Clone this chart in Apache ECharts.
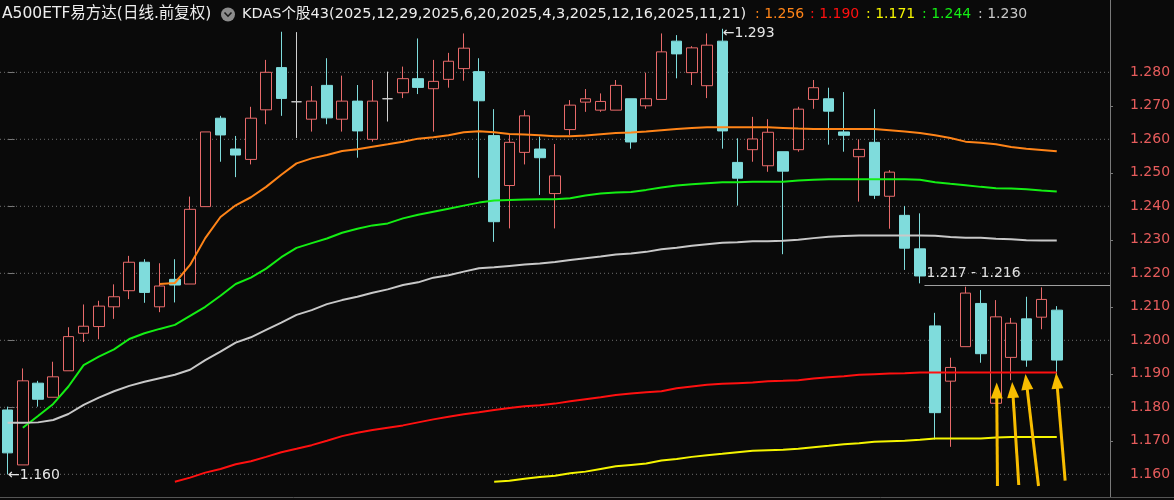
<!DOCTYPE html>
<html><head><meta charset="utf-8">
<script src="https://cdn.jsdelivr.net/npm/echarts@6/dist/echarts.min.js"></script>
<style>html,body{margin:0;padding:0;background:#0a0a0a;}#c{width:1174px;height:500px;}</style>
</head><body><div id="c"></div>
<script>
// ---------- text ----------
const stockName = 'A500ETF易方达(日线.前复权)';
const indicatorName = 'KDAS个股43(2025,12,29,2025,6,20,2025,4,3,2025,12,16,2025,11,21)';

// ---------- candles (70 daily bars) ----------
const opens = [1.1792,1.1628,1.1872,1.1830,1.1909,1.2021,1.2041,1.2100,1.2148,1.2233,
1.2100,1.2182,1.2168,1.2399,1.2663,1.2571,1.2540,1.2688,1.2814,1.2712,
1.2660,1.2761,1.2660,1.2714,1.2600,1.2721,1.2739,1.2781,1.2751,1.2779,
1.2811,1.2802,1.2611,1.2462,1.2561,1.2571,1.2438,1.2629,1.2711,1.2687,
1.2687,1.2721,1.2700,1.2719,1.2893,1.2799,1.2760,1.2893,1.2531,1.2569,
1.2521,1.2563,1.2569,1.2719,1.2721,1.2622,1.2548,1.2591,1.2430,1.2373,
1.2273,1.2043,1.1878,1.1981,1.2110,1.1812,1.1949,1.2064,1.2069,1.2090];
const closes = [1.1664,1.1879,1.1824,1.1891,1.2011,1.2042,1.2102,1.2130,1.2233,1.2143,
1.2162,1.2165,1.2391,1.2622,1.2613,1.2553,1.2663,1.2800,1.2722,1.2712,
1.2714,1.2664,1.2714,1.2625,1.2714,1.2721,1.2781,1.2755,1.2773,1.2833,
1.2872,1.2715,1.2354,1.2591,1.2670,1.2545,1.2491,1.2702,1.2721,1.2713,
1.2761,1.2592,1.2721,1.2861,1.2855,1.2873,1.2881,1.2625,1.2484,1.2601,
1.2621,1.2505,1.2690,1.2754,1.2684,1.2612,1.2570,1.2433,1.2502,1.2275,
1.2192,1.1784,1.1919,1.2141,1.1960,1.2070,1.2051,1.1941,1.2122,1.1941];
const lows = [1.1600,1.1628,1.1802,1.1830,1.1909,1.1995,1.2003,1.2064,1.2123,1.2112,
1.2084,1.2113,1.2168,1.2399,1.2533,1.2487,1.2525,1.2645,1.2670,1.2604,
1.2623,1.2645,1.2623,1.2545,1.2593,1.2653,1.2723,1.2735,1.2623,1.2754,
1.2775,1.2485,1.2294,1.2334,1.2525,1.2434,1.2334,1.2613,1.2682,1.2682,
1.2687,1.2572,1.2691,1.2719,1.2782,1.2762,1.2723,1.2572,1.2402,1.2533,
1.2503,1.2257,1.2563,1.2691,1.2584,1.2563,1.2414,1.2422,1.2333,1.2210,
1.2170,1.1704,1.1682,1.1981,1.1933,1.1812,1.1881,1.1921,1.2033,1.1893];
const highs = [1.1802,1.1916,1.1879,1.1936,1.2039,1.2107,1.2118,1.2167,1.2252,1.2242,
1.2230,1.2242,1.2429,1.2622,1.2670,1.2610,1.2697,1.2837,1.2921,1.2920,
1.2759,1.2842,1.2790,1.2762,1.2777,1.2802,1.2817,1.2901,1.2837,1.2858,
1.2916,1.2842,1.2690,1.2613,1.2687,1.2608,1.2586,1.2717,1.2750,1.2737,
1.2777,1.2721,1.2799,1.2916,1.2911,1.2878,1.2916,1.2930,1.2603,1.2667,
1.2660,1.2563,1.2697,1.2777,1.2754,1.2741,1.2600,1.2690,1.2508,1.2401,
1.2379,1.2082,1.1948,1.2160,1.2150,1.2120,1.2067,1.2130,1.2158,1.2102];

// ---------- KDAS anchored lines (null before anchor) ----------
const N = null;
const kdasOrange = [N,N,N,N,N,N,N,N,N,N,
1.2168,1.2171,1.2225,1.2305,1.2368,1.2403,1.2427,1.2458,1.2494,1.2528,
1.2543,1.2553,1.2565,1.2570,1.2578,1.2585,1.2593,1.2602,1.2606,1.2612,
1.2621,1.2624,1.2621,1.2616,1.2614,1.2612,1.2609,1.2609,1.2611,1.2615,
1.2619,1.2620,1.2623,1.2627,1.2631,1.2634,1.2636,1.2636,1.2636,1.2636,
1.2636,1.2634,1.2632,1.2631,1.2631,1.2631,1.2631,1.2631,1.2627,1.2623,
1.2619,1.2612,1.2604,1.2593,1.2590,1.2585,1.2577,1.2572,1.2568,1.2564];
const kdasRed = [N,N,N,N,N,N,N,N,N,N,
N,1.1578,1.1590,1.1605,1.1616,1.1630,1.1639,1.1652,1.1666,1.1676,
1.1687,1.1700,1.1714,1.1724,1.1732,1.1739,1.1746,1.1755,1.1764,1.1772,
1.1779,1.1785,1.1792,1.1798,1.1803,1.1806,1.1811,1.1818,1.1824,1.1830,
1.1837,1.1841,1.1845,1.1848,1.1857,1.1862,1.1867,1.1870,1.1872,1.1874,
1.1878,1.1879,1.1881,1.1886,1.1890,1.1893,1.1897,1.1899,1.1901,1.1902,
1.1904,1.1904,1.1904,1.1904,1.1904,1.1904,1.1904,1.1904,1.1904,1.1904];
const kdasYellow = [N,N,N,N,N,N,N,N,N,N,
N,N,N,N,N,N,N,N,N,N,
N,N,N,N,N,N,N,N,N,N,
N,N,1.1578,1.1581,1.1587,1.1592,1.1596,1.1603,1.1608,1.1616,
1.1624,1.1628,1.1632,1.1641,1.1646,1.1652,1.1657,1.1661,1.1666,1.1670,
1.1672,1.1673,1.1676,1.1681,1.1685,1.1690,1.1693,1.1697,1.1699,1.1700,
1.1703,1.1707,1.1707,1.1707,1.1707,1.1710,1.1711,1.1711,1.1711,1.1711];
const kdasGreen = [N,1.1739,1.1774,1.1810,1.1862,1.1926,1.1951,1.1973,1.2004,1.2021,
1.2034,1.2046,1.2073,1.2100,1.2133,1.2168,1.2187,1.2214,1.2248,1.2276,
1.2290,1.2304,1.2321,1.2333,1.2343,1.2349,1.2364,1.2375,1.2384,1.2393,
1.2402,1.2411,1.2417,1.2419,1.2420,1.2421,1.2421,1.2424,1.2432,1.2438,
1.2441,1.2443,1.2449,1.2456,1.2462,1.2466,1.2469,1.2472,1.2472,1.2473,
1.2473,1.2473,1.2477,1.2479,1.2481,1.2481,1.2481,1.2481,1.2481,1.2481,
1.2479,1.2472,1.2467,1.2463,1.2458,1.2454,1.2453,1.2451,1.2447,1.2444];
const kdasWhite = [1.1754,1.1754,1.1755,1.1762,1.1780,1.1807,1.1829,1.1848,1.1864,1.1876,
1.1887,1.1897,1.1912,1.1941,1.1966,1.1993,1.2009,1.2031,1.2053,1.2076,
1.2090,1.2108,1.2120,1.2130,1.2142,1.2152,1.2165,1.2173,1.2187,1.2194,
1.2205,1.2215,1.2218,1.2222,1.2226,1.2229,1.2234,1.2240,1.2245,1.2250,
1.2256,1.2259,1.2264,1.2272,1.2276,1.2282,1.2287,1.2291,1.2293,1.2296,
1.2296,1.2297,1.2300,1.2305,1.2309,1.2311,1.2313,1.2313,1.2313,1.2313,
1.2313,1.2312,1.2308,1.2306,1.2306,1.2303,1.2302,1.2299,1.2298,1.2298];

// ---------- axis tick labels ----------
const yTickLabels = ['1.160','1.170','1.180','1.190','1.200','1.210','1.220','1.230','1.240','1.250','1.260','1.270','1.280'];
const yGridLabels = ['1.160','1.180','1.200','1.220','1.240','1.260','1.280'];

// ---------- annotations ----------
const gapBar = 60;                       // gap after this bar
const arrowTipBars  = [65.05, 66.1, 67.0, 69.0];
const arrowTipVals  = [1.1850, 1.1852, 1.1876, 1.1879];
const arrowTailBars = [65.1, 66.5, 67.8, 69.55];
const arrowTailVals = [1.1565, 1.1568, 1.1565, 1.1581];

// ---------- derived ----------
const EMPTY_SLOTS = 3;
const categories = [];
for (let i = 0; i < opens.length + EMPTY_SLOTS; i++) categories.push(i < opens.length ? 'D' + (i + 1) : '');
const candleData = opens.map((o, i) => [o, closes[i], lows[i], highs[i]]);
const gapUpper = lows[gapBar];
const gapLower = Math.max(...highs.slice(gapBar + 1));
const gapMid = (gapUpper + gapLower) / 2;

const FONT = '"DejaVu Sans", "Noto Sans CJK SC", sans-serif';
const BG = '#0a0a0a';
const UP = '#e86a6a', DOWN = '#7fdcdc', DOJI = '#d0d0d0';
const C_OR = '#ff8418', C_RD = '#ff1010', C_YE = '#f5f500', C_GR = '#14ee14', C_WH = '#c8c8c8';

// y mapping: grid top 28 px .. bottom 497 px ; 1.280 at 72.3px, 1.160 at 474.3px
const PX_PER_UNIT = (474.3 - 72.3) / 0.12;
const yMax = 1.16 + (474.3 - 28) / PX_PER_UNIT;
const yMin = 1.16 - (497 - 474.3) / PX_PER_UNIT;
const toNum = s => parseFloat(s);
const majorTicks = yGridLabels.map(toNum);
const minorTicks = yTickLabels.filter(s => !yGridLabels.includes(s)).map(toNum);
const allTicks = yTickLabels.map(toNum);
const xLeft = -0.5, xRight = categories.length - 0.5;

const lastVal = a => a[a.length - 1].toFixed(3);

const chart = echarts.init(document.getElementById('c'), null, {renderer: 'canvas'});

const lineSeries = (name, data, color) => ({
  name, type: 'line', data, xAxisIndex: 0, yAxisIndex: 0,
  symbol: 'none', smooth: false, connectNulls: false, z: 4,
  lineStyle: {color, width: 2}, silent: true, animation: false
});

const titleItems = [
  {text: ': ' + lastVal(kdasOrange), x: 755, color: C_OR},
  {text: ': ' + lastVal(kdasRed), x: 810, color: C_RD},
  {text: ': ' + lastVal(kdasYellow), x: 866, color: C_YE},
  {text: ': ' + lastVal(kdasGreen), x: 922, color: C_GR},
  {text: ': ' + lastVal(kdasWhite), x: 978, color: C_WH}
];

const option = {
  backgroundColor: BG,
  animation: false,
  grid: {left: 0, top: 28, width: 1110, height: 469, containLabel: false, show: false},
  xAxis: [
    {type: 'category', data: categories, boundaryGap: true, show: false},
    {type: 'value', min: xLeft, max: xRight, show: false}
  ],
  yAxis: [
    {
      type: 'value', position: 'right', min: yMin, max: yMax, scale: true,
      axisLine: {show: false},
      axisTick: {show: true, length: 7, customValues: majorTicks, lineStyle: {color: '#7a7a7a'}},
      axisLabel: {show: false, customValues: majorTicks},
      splitLine: {show: false}
    },
    {
      type: 'value', position: 'right', min: yMin, max: yMax, scale: true,
      axisLine: {show: false},
      axisTick: {show: true, length: 3, customValues: minorTicks, lineStyle: {color: '#7a7a7a'}},
      axisLabel: {show: true, customValues: allTicks, margin: 20, color: '#e65c5c',
        fontSize: 14, fontFamily: FONT, formatter: v => v.toFixed(3)},
      splitLine: {show: false}
    }
  ],
  series: [
    {
      name: 'gridlines', type: 'line', xAxisIndex: 1, yAxisIndex: 0, z: 1, silent: true,
      symbol: 'none', animation: false,
      lineStyle: {color: '#6e6e6e', width: 1, type: [1, 3]},
      data: majorTicks.flatMap(v => [[xLeft, v], [xRight, v], [xRight, null]]),
      connectNulls: false
    },
    {
      name: 'K', type: 'candlestick', data: candleData, xAxisIndex: 0, yAxisIndex: 0,
      barWidth: 11, z: 2, silent: true,
      itemStyle: {
        color: BG, color0: DOWN, borderColor: UP, borderColor0: DOWN,
        borderColorDoji: DOJI, borderWidth: 1
      },
      markPoint: {
        symbol: 'rect', symbolSize: 1, silent: true, animation: false,
        itemStyle: {color: 'rgba(0,0,0,0)'},
        label: {show: true, position: 'right', distance: 0, color: '#e6e6e6',
          fontSize: 14, fontFamily: FONT,
          formatter: p => '\u2190' + Number(p.value).toFixed(3)},
        data: [
          {type: 'max', valueDim: 'highest', label: {offset: [0, 5]}},
          {type: 'min', valueDim: 'lowest', label: {offset: [0, 1]}}
        ]
      }
    },
    lineSeries('orange', kdasOrange, C_OR),
    lineSeries('red', kdasRed, C_RD),
    lineSeries('yellow', kdasYellow, C_YE),
    lineSeries('green', kdasGreen, C_GR),
    lineSeries('white', kdasWhite, C_WH),
    {
      name: 'annot', type: 'line', data: [], xAxisIndex: 1, yAxisIndex: 0, z: 6, silent: true,
      markLine: {
        silent: true, animation: false, precision: 4,
        data: [
          [
            {coord: [gapBar + 0.3, gapMid], symbol: 'none',
              lineStyle: {color: '#a0a0a0', width: 1, type: 'solid'},
              label: {show: true, position: 'insideStartTop', distance: [2, 5],
                color: '#e0e0e0', fontSize: 14, fontFamily: FONT,
                formatter: () => gapUpper.toFixed(3) + ' - ' + gapLower.toFixed(3)}},
            {coord: [xRight, gapMid], symbol: 'none'}
          ]
        ].concat(arrowTipBars.map((b, k) => [
          {coord: [arrowTailBars[k], arrowTailVals[k]], symbol: 'none',
            lineStyle: {color: '#f8bd00', width: 3, type: 'solid'}, label: {show: false}},
          {coord: [b, arrowTipVals[k]], symbol: 'triangle', symbolSize: [12, 16]}
        ])),
        itemStyle: {color: '#f8bd00'}
      }
    }
  ],
  graphic: [
    {type: 'text', x: 2, y: 14, z: 10, style: {text: stockName, fill: '#eeeeee', font: '15.5px ' + FONT, verticalAlign: 'middle'}},
    {type: 'circle', z: 10, shape: {cx: 228, cy: 14.5, r: 7}, style: {fill: '#8c8c8c'}},
    {type: 'polyline', z: 11, shape: {points: [[224.5, 12.5], [228, 16.2], [231.5, 12.5]]}, style: {stroke: '#1a1a1a', lineWidth: 1.6, fill: null}},
    {type: 'text', x: 242, y: 14, z: 10, style: {text: indicatorName, fill: '#eeeeee', font: '14.5px ' + FONT, verticalAlign: 'middle'}}
  ].concat(titleItems.map(t => ({
    type: 'text', x: t.x, y: 14, z: 10, style: {text: t.text, fill: t.color, font: '14px ' + FONT, verticalAlign: 'middle'}
  }))).concat([
    {type: 'line', z: 10, shape: {x1: 1110.5, y1: 0, x2: 1110.5, y2: 497}, style: {stroke: '#7a7a7a', lineWidth: 1}},
    {type: 'line', z: 10, shape: {x1: 0, y1: 497.5, x2: 1174, y2: 497.5}, style: {stroke: '#555555', lineWidth: 1}}
  ])
};
chart.setOption(option);
</script></body></html>
